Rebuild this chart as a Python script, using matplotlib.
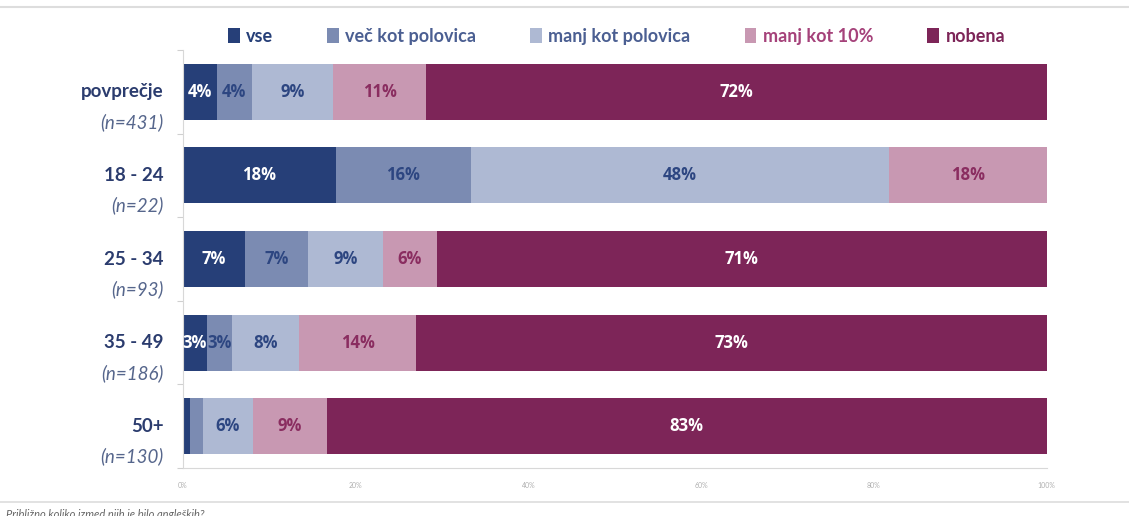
import matplotlib
matplotlib.use("Agg")
import matplotlib.pyplot as plt
from matplotlib.patches import Patch
import numpy as np

groups = ["povprečje", "18 - 24", "25 - 34", "35 - 49", "50+"]
sizes = ["(n=431)", "(n=22)", "(n=93)", "(n=186)", "(n=130)"]
series = ["vse", "več kot polovica", "manj kot polovica", "manj kot 10%", "nobena"]

vse = [3.9, 17.7, 7.2, 2.8, 0.8]
vec_kot_pol = [4.1, 15.6, 7.3, 2.9, 1.5]
manj_kot_pol = [9.4, 48.4, 8.7, 7.8, 5.8]
manj_10 = [10.8, 18.3, 6.2, 13.5, 8.6]
nobena = [71.8, 0.0, 70.6, 73.0, 83.3]

# labels shown on bars (rounded values from the source, blank = no label)
labels = [
    ["4%", "18%", "7%", "3%", ""],
    ["4%", "16%", "7%", "3%", ""],
    ["9%", "48%", "9%", "8%", "6%"],
    ["11%", "18%", "6%", "14%", "9%"],
    ["72%", "", "71%", "73%", "83%"],
]

colors = ["#263F78", "#7B8BB2", "#AEB9D3", "#C898B2", "#7D2558"]
text_colors = ["white", "#2D4681", "#2D4681", "#8A2D60", "white"]
legend_colors = ["#263F78", "#4B5F92", "#4B5F92", "#A5427A", "#7D2558"]

plt.rcParams["font.family"] = ["Lato", "DejaVu Sans"]

fig = plt.figure(figsize=(11.29, 5.16), dpi=100)
ax = fig.add_axes([0.162, 0.093, 0.765, 0.81])

values = [vse, vec_kot_pol, manj_kot_pol, manj_10, nobena]
y = np.arange(len(groups))
left = np.zeros(len(groups))
for i, vals in enumerate(values):
    vals = np.array(vals)
    ax.barh(y, vals, left=left, height=0.67, color=colors[i], edgecolor="none")
    for j, v in enumerate(vals):
        if labels[i][j] and v > 0:
            ax.text(left[j] + v / 2, y[j], labels[i][j], ha="center", va="center",
                    color=text_colors[i], fontsize=12, fontweight="bold",
                    family=["Open Sans", "DejaVu Sans"])
    left += vals

ax.set_xlim(0, 100)
ax.set_ylim(len(groups) - 0.5, -0.5)
ax.set_xticks(np.arange(0, 101, 20))
ax.set_xticklabels([f"{t}%" for t in range(0, 101, 20)], fontsize=5, color="#B0B0B0")
ax.tick_params(axis="x", length=0, pad=10)
ax.set_yticks(np.arange(-0.5, len(groups), 1.0))
ax.set_yticklabels([])
ax.tick_params(axis="y", length=4, color="#D0D0D0", width=0.8)

for side in ["top", "right"]:
    ax.spines[side].set_visible(False)
ax.spines["left"].set_color("#D8D8D8")
ax.spines["bottom"].set_color("#D8D8D8")

for j, (g, n) in enumerate(zip(groups, sizes)):
    ax.text(-0.022, y[j], g, transform=ax.get_yaxis_transform(), ha="right", va="center",
            fontsize=13.5, fontweight="bold", color="#2B3C6E")
    ax.text(-0.022, y[j] + 0.36, n, transform=ax.get_yaxis_transform(), ha="right", va="center",
            fontsize=13.5, style="italic", color="#56668C")

handles = [Patch(facecolor=c, edgecolor="none") for c in colors]
leg = fig.legend(handles, series, loc="center", bbox_to_anchor=(0.546, 0.93), ncol=5,
                 frameon=False, handlelength=0.65, handleheight=0.85, handletextpad=0.35,
                 columnspacing=3.0, prop={"size": 13, "weight": "bold"})
for t, c in zip(leg.get_texts(), legend_colors):
    t.set_color(c)

fig.add_artist(plt.Line2D([0.0, 1.0], [0.987, 0.987], color="#DDDDDD", lw=1.5))
fig.add_artist(plt.Line2D([0.0, 1.0], [0.027, 0.027], color="#DDDDDD", lw=1.2))
fig.text(0.005, 0.003, "Približno koliko izmed njih je bilo angleških?", fontsize=8,
         style="italic", color="#666666", va="center")

fig.savefig("out.png", dpi=100)
